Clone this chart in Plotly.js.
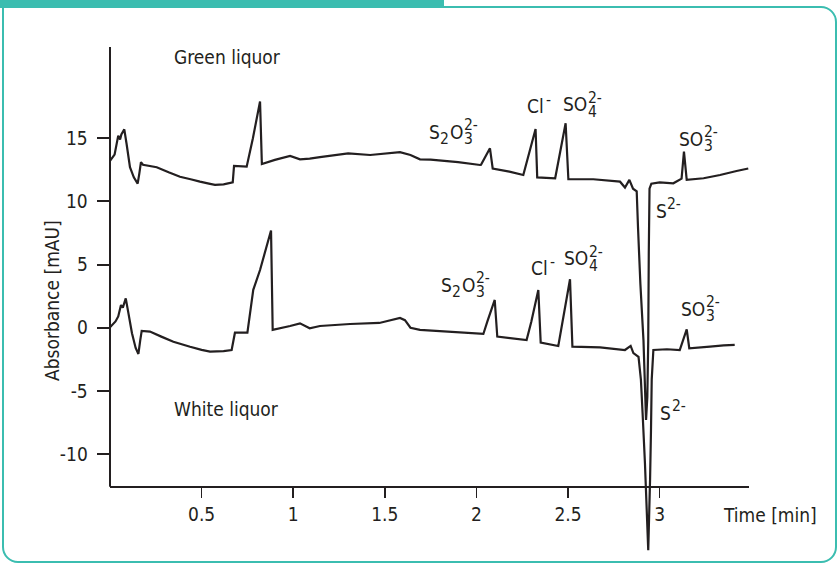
<!DOCTYPE html>
<html>
<head>
<meta charset="utf-8">
<script src="https://cdn.plot.ly/plotly-3.0.1.min.js"></script>
<style>
  html, body { margin: 0; padding: 0; background: #ffffff; }
  #wrap { position: relative; width: 838px; height: 565px; overflow: hidden; }
  #frame {
    position: absolute; left: 2px; top: 5.5px; width: 835px; height: 557px;
    box-sizing: border-box; border: 2.6px solid #3bbdb0;
    border-radius: 0 16px 16px 16px;
  }
  #tab { position: absolute; left: 0; top: 0; width: 444px; height: 8px; background: #3bbdb0; }
  #chart { position: absolute; left: 0; top: 0; width: 838px; height: 565px; }
</style>
</head>
<body>
<div id="wrap">
  <div id="frame"></div>
  <div id="tab"></div>
  <div id="chart"></div>
</div>
<script>
// Ion chromatograms of green and white liquor (UV detection)

// Green liquor trace: retention time [min] and absorbance [mAU]
const greenTime = [
  0.000, 0.025, 0.045, 0.055, 0.062, 0.078, 0.090, 0.109, 0.130, 0.151,
  0.160, 0.169, 0.180, 0.255, 0.320, 0.382, 0.440, 0.491, 0.540, 0.573,
  0.620, 0.670, 0.677, 0.746, 0.780, 0.819, 0.829, 0.900, 0.983, 1.037,
  1.090, 1.146, 1.300, 1.420, 1.583, 1.640, 1.692, 1.750, 1.900, 2.020,
  2.025, 2.074, 2.089, 2.180, 2.256, 2.323, 2.332, 2.430, 2.487, 2.502,
  2.638, 2.784, 2.811, 2.835, 2.855, 2.875, 2.882, 2.895, 2.912, 2.926,
  2.933, 2.938, 2.941, 2.945, 2.955, 3.000, 3.075, 3.120, 3.133, 3.148,
  3.240, 3.330, 3.420, 3.484
];
const greenAbs = [
  13.20, 13.70, 15.20, 14.90, 15.30, 15.70, 14.60, 12.70, 11.90, 11.40,
  12.20, 13.10, 12.90, 12.70, 12.30, 11.95, 11.75, 11.56, 11.40, 11.30,
  11.35, 11.50, 12.80, 12.75, 15.00, 17.90, 12.96, 13.28, 13.60, 13.33,
  13.38, 13.50, 13.80, 13.67, 13.90, 13.67, 13.33, 13.30, 13.10, 12.88,
  12.90, 14.20, 12.60, 12.35, 12.09, 15.73, 11.90, 11.83, 16.18, 11.75,
  11.75, 11.56, 11.10, 11.70, 11.00, 10.80, 8.00, 3.50, -1.00, -7.30,
  -5.50, -1.00, 6.00, 11.00, 11.40, 11.50, 11.43, 11.80, 13.93, 11.70,
  11.83, 12.09, 12.40, 12.60
];

// White liquor trace: retention time [min] and absorbance [mAU]
const whiteTime = [
  0.000, 0.030, 0.045, 0.060, 0.070, 0.086, 0.100, 0.120, 0.140, 0.155,
  0.165, 0.173, 0.218, 0.280, 0.346, 0.437, 0.500, 0.546, 0.620, 0.664,
  0.682, 0.750, 0.782, 0.819, 0.879, 0.888, 0.983, 1.037, 1.090, 1.146,
  1.310, 1.470, 1.583, 1.610, 1.640, 1.692, 2.038, 2.060, 2.100, 2.114,
  2.274, 2.300, 2.338, 2.351, 2.447, 2.511, 2.524, 2.675, 2.811, 2.842,
  2.857, 2.885, 2.898, 2.907, 2.920, 2.938, 2.948, 2.953, 2.957, 2.966,
  3.040, 3.110, 3.148, 3.162, 3.275, 3.350, 3.410
];
const whiteAbs = [
  0.04, 0.50, 0.90, 1.80, 1.60, 2.33, 1.20, -0.43, -1.60, -2.07,
  -1.00, -0.25, -0.30, -0.70, -1.10, -1.50, -1.75, -1.89, -1.85, -1.76,
  -0.39, -0.39, 3.00, 4.57, 7.70, -0.17, 0.14, 0.35, -0.04, 0.14,
  0.30, 0.38, 0.78, 0.60, 0.00, -0.17, -0.49, 0.50, 2.20, -0.70,
  -0.97, 0.50, 2.99, -1.18, -1.44, 3.84, -1.49, -1.55, -1.76, -1.44,
  -2.00, -2.30, -4.10, -6.70, -10.70, -17.60, -12.00, -8.10, -4.10, -1.76,
  -1.70, -1.76, -0.12, -1.62, -1.49, -1.40, -1.36
];

// Axis ticks
const timeTicks = [0.5, 1, 1.5, 2, 2.5, 3];
const timeTickText = ['0.5', '1', '1.5', '2', '2.5', '3'];
const absTicks = [-10, -5, 0, 5, 10, 15];
const absTickText = ['-10', '-5', '0', '5', '10', '15'];

// Peak labels: base text with optional (stacked) subscript / superscript
const ionLabels = [
  { x: 1.736, y: 15.51, parts: [{ t: 'S', sub: '2' }, { t: 'O', sub: '3', sup: '2-' }] },
  { x: 2.271, y: 17.51, parts: [{ t: 'Cl', sup: '-' }] },
  { x: 2.466, y: 17.69, parts: [{ t: 'SO', sub: '4', sup: '2-' }] },
  { x: 3.100, y: 14.94, parts: [{ t: 'SO', sub: '3', sup: '2-' }] },
  { x: 2.975, y: 9.24,  parts: [{ t: 'S', sup: '2-' }] },
  { x: 1.801, y: 3.39,  parts: [{ t: 'S', sub: '2' }, { t: 'O', sub: '3', sup: '2-' }] },
  { x: 2.293, y: 4.71,  parts: [{ t: 'Cl', sup: '-' }] },
  { x: 2.474, y: 5.50,  parts: [{ t: 'SO', sub: '4', sup: '2-' }] },
  { x: 3.111, y: 1.49,  parts: [{ t: 'SO', sub: '3', sup: '2-' }] },
  { x: 2.998, y: -6.74, parts: [{ t: 'S', sup: '2-' }] }
];

const FONT = '"Liberation Sans Narrow", "Arial Narrow", "DejaVu Sans Condensed", sans-serif';
const INK = '#231f20';
const BASE_SIZE = 19;
const SMALL_SIZE = 15.5;
const SUP_SHIFT = 6.5, SUB_SHIFT = -7.5;

const Y_MIN = -17.82, Y_MAX = 22.215;
const X_MIN = 0, X_MAX = 3.488;
const X_AXIS_AT = -12.57;   // absorbance level where the time axis is drawn

const ctx = document.createElement('canvas').getContext('2d');
function textWidth(str, size) {
  ctx.font = size + 'px ' + FONT;
  return ctx.measureText(str).width;
}

function note(x, y, text, size, xshift, yshift) {
  return {
    x: x, y: y, xref: 'x', yref: 'y', text: text, showarrow: false,
    xanchor: 'left', yanchor: 'middle', align: 'left',
    xshift: xshift, yshift: yshift,
    font: { family: FONT, size: size, color: INK }, borderpad: 0
  };
}

function small(str) {
  return '<span style="font-size:' + SMALL_SIZE + 'px">' + str + '</span>';
}

const annotations = [];
ionLabels.forEach(lbl => {
  let cum = 0;
  lbl.parts.forEach(p => {
    annotations.push(note(lbl.x, lbl.y, p.t, BASE_SIZE, cum, 0));
    cum += textWidth(p.t, BASE_SIZE);
    const gap = p.t === 'Cl' ? 2 : 0.5;
    let extra = 0;
    if (p.sub && p.sup) {
      // superscript over subscript in one two-line block; tight line spacing
      const lineSize = (SUP_SHIFT - SUB_SHIFT) / 1.3;
      annotations.push(note(lbl.x, lbl.y, small(p.sup) + '<br>' + small(p.sub), lineSize,
        cum + gap, (SUP_SHIFT + SUB_SHIFT) / 2));
      extra = Math.max(textWidth(p.sup, SMALL_SIZE), textWidth(p.sub, SMALL_SIZE));
    } else if (p.sub) {
      annotations.push(note(lbl.x, lbl.y, p.sub, SMALL_SIZE, cum + gap, SUB_SHIFT));
      extra = textWidth(p.sub, SMALL_SIZE);
    } else if (p.sup) {
      annotations.push(note(lbl.x, lbl.y, p.sup, SMALL_SIZE, cum + gap, SUP_SHIFT));
      extra = textWidth(p.sup, SMALL_SIZE);
    }
    cum += extra + gap + 0.5;
  });
});

annotations.push(note(0.344, 21.44, 'Green liquor', BASE_SIZE, 0, 0));
annotations.push(note(0.344, -6.46, 'White liquor', BASE_SIZE, 0, 0));
annotations.push(note(3.341, -14.81, 'Time [min]', BASE_SIZE, 0, 0));
annotations.push({
  x: -0.0908, y: 0.5, xref: 'paper', yref: 'paper', text: 'Absorbance [mAU]',
  textangle: -90, showarrow: false, xanchor: 'center', yanchor: 'middle',
  font: { family: FONT, size: BASE_SIZE, color: INK }
});

const traceStyle = { color: INK, width: 2.2, shape: 'linear', simplify: false };
const data = [
  { x: greenTime, y: greenAbs, type: 'scatter', mode: 'lines', name: 'Green liquor', line: traceStyle, hoverinfo: 'skip' },
  { x: whiteTime, y: whiteAbs, type: 'scatter', mode: 'lines', name: 'White liquor', line: traceStyle, hoverinfo: 'skip' }
];

const layout = {
  width: 838, height: 565,
  margin: { l: 110, r: 89, t: 47, b: 12, pad: 0 },
  paper_bgcolor: 'rgba(0,0,0,0)', plot_bgcolor: 'rgba(0,0,0,0)',
  showlegend: false,
  font: { family: FONT, size: BASE_SIZE, color: INK },
  xaxis: {
    range: [X_MIN, X_MAX], anchor: 'free',
    position: (X_AXIS_AT - Y_MIN) / (Y_MAX - Y_MIN),
    showline: true, linewidth: 2, linecolor: INK,
    ticks: 'outside', ticklen: 10, tickwidth: 1.6, tickcolor: INK,
    tickvals: timeTicks, ticktext: timeTickText, ticklabelstandoff: 1,
    showgrid: false, zeroline: false, tickfont: { size: BASE_SIZE, color: INK }
  },
  yaxis: {
    range: [Y_MIN, Y_MAX], showline: false,
    ticks: 'outside', ticklen: 12, tickwidth: 2, tickcolor: INK,
    tickvals: absTicks,
    // trailing no-break space keeps the labels clear of the tick marks
    ticktext: absTickText.map(s => s + '\u00a0'),
    showgrid: false, zeroline: false, tickfont: { size: BASE_SIZE, color: INK }
  },
  shapes: [{
    type: 'line', xref: 'paper', yref: 'y', x0: 0, x1: 0, y0: X_AXIS_AT, y1: Y_MAX,
    line: { color: INK, width: 2 }
  }],
  annotations: annotations
};

Plotly.newPlot('chart', data, layout, { displayModeBar: false, staticPlot: true });
</script>
</body>
</html>
